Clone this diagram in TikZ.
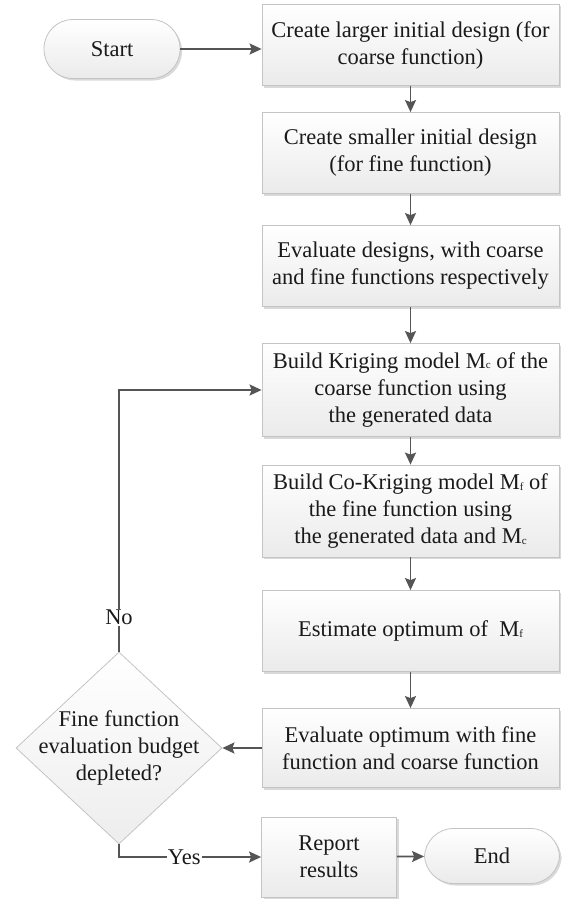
\documentclass[tikz,border=0pt]{standalone}
\usepackage{fontspec}
\setmainfont{Liberation Serif}
\usetikzlibrary{arrows.meta,shapes.geometric,shadows}
\definecolor{linecol}{HTML}{555555}
\definecolor{edgecol}{HTML}{C4C4C4}
\definecolor{txtcol}{HTML}{1A1A1A}
\newcommand{\sbs}[1]{\raisebox{-0.5pt}{\fontsize{11}{11}\selectfont #1}}
\begin{document}
\begin{tikzpicture}[x=1pt,y=1pt,
  base/.style={font=\fontsize{22.5}{27}\selectfont, align=center, text=txtcol},
  shade/.style={top color=white, bottom color=black!8},
  shd/.style={drop shadow={shadow xshift=2pt, shadow yshift=-2pt, fill=black!15, opacity=1}},
  proc/.style={base, shade, shd, draw=edgecol, line width=0.8pt, minimum width=297pt, minimum height=81pt, inner sep=0pt},
  term/.style={base, shade, shd, draw=edgecol, line width=0.8pt, rounded corners=29pt, minimum width=136pt, minimum height=59pt, inner sep=0pt},
  dec/.style={diamond, draw=edgecol, line width=0.8pt, top color=white, bottom color=black!7, minimum width=206pt, minimum height=192pt, inner sep=0pt},
  conn/.style={draw=linecol, line width=1.8pt, -{Stealth[length=12pt,width=11pt,inset=2pt]}},
  lab/.style={base, fill=white, inner sep=1pt}
]
\useasboundingbox (0,0) rectangle (568,-899);
\node[term] (start) at (112,-49) {Start};
\node[proc] (b1) at (410.5,-45) {Create larger initial design (for\\coarse function)};
\node[proc] (b2) at (410.5,-153) {Create smaller initial design\\(for fine function)};
\node[proc] (b3) at (410.5,-266) {Evaluate designs, with coarse\\and fine functions respectively};
\node[proc, minimum height=93pt] (b4) at (410.5,-390) {Build Kriging model M\sbs{c} of the\\coarse function using\\the generated data};
\node[proc, minimum height=92pt] (b5) at (410.5,-511) {Build Co-Kriging model M\sbs{f} of\\the fine function using\\the generated data and M\sbs{c}};
\node[proc] (b6) at (410.5,-631) {Estimate optimum of \ M\sbs{f}};
\node[proc, minimum height=79pt] (b7) at (410.5,-748) {Evaluate optimum with fine\\function and coarse function};
\node[dec] (d) at (119,-748) {};
\node[base] (dt) at (d) {Fine function\\evaluation budget\\depleted?};
\node[proc, minimum width=135pt, minimum height=80pt] (rep) at (329,-857) {Report\\results};
\node[term, minimum width=135pt, minimum height=55pt] (end) at (492,-856) {End};

\draw[conn] (start.east) -- (start.east -| b1.west);
\draw[conn] (b1) -- (b2);
\draw[conn] (b2) -- (b3);
\draw[conn] (b3) -- (b4);
\draw[conn] (b4) -- (b5);
\draw[conn] (b5) -- (b6);
\draw[conn] (b6) -- (b7);
\draw[conn] (b7) -- (d.east);
\draw[conn] (d.north) |- node[lab, pos=0.065] {No} (b4.west);
\draw[conn] (d.south) |- node[lab, pos=0.73] {Yes} (rep.west);
\draw[conn] (rep) -- (end);
\end{tikzpicture}
\end{document}
